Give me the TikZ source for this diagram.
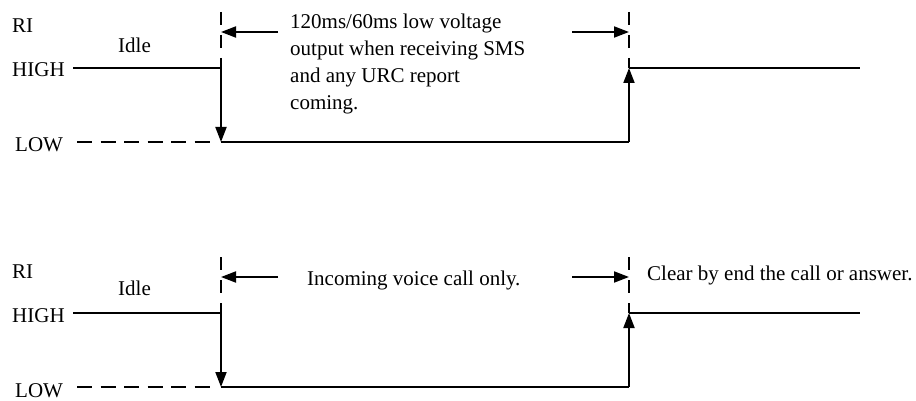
\documentclass[tikz,border=0pt]{standalone}
\usepackage{fontspec}
\setmainfont{Liberation Serif}
\usetikzlibrary{arrows.meta}
\begin{document}
\begin{tikzpicture}[x=1pt,y=-1pt,
  sig/.style={line width=1.9pt},
  dashv/.style={line width=1.9pt, dash pattern=on 13pt off 10pt},
  dashh/.style={line width=1.9pt, dash pattern=on 15pt off 8.5pt},
  tipend/.style={-{Triangle[length=15pt,width=11pt]}},
  lbl/.style={inner sep=0pt, anchor=base west, font=\fontsize{21}{27}\selectfont}]
\useasboundingbox (0,0) rectangle (916,401);
% ---------- top diagram ----------
\node[lbl] (ri1) at (12,33) {RI};
\node[lbl] (idle1) at (118,53) {Idle};
\node[lbl] (high1) at (12,77) {HIGH};
\node[lbl] (low1) at (15,152) {LOW};
\node[lbl, align=left] (txt1) at (290,110) {120ms/60ms low voltage\\output when receiving SMS\\and any URC report\\coming.};
\coordinate (hs1) at (73,68);
\coordinate (fa1) at (221,68);
\coordinate (fb1) at (221,142);
\coordinate (ra1) at (629,142);
\coordinate (rb1) at (629,68);
\coordinate (he1) at (860,68);
\coordinate (ls1) at (77,142);
\coordinate (le1) at (213,142);
\coordinate (dt1) at (221,12);
\coordinate (dr1) at (629,12);
\coordinate (al1) at (278,32);
\coordinate (alt1) at (221,32);
\coordinate (ar1) at (572,32);
\coordinate (art1) at (629,32);
\draw[sig] (hs1) -- (fa1);
\draw[sig,tipend] (fa1) -- (fb1);
\draw[sig] (fb1) -- (ra1);
\draw[sig,tipend] (ra1) -- (rb1);
\draw[sig] (rb1) -- (he1);
\draw[dashh] (ls1) -- (le1);
\draw[dashv] (dt1) -- (fa1);
\draw[dashv] (dr1) -- (rb1);
\draw[sig,tipend] (al1) -- (alt1);
\draw[sig,tipend] (ar1) -- (art1);
% ---------- bottom diagram ----------
\node[lbl] (ri2) at (12,278) {RI};
\node[lbl] (idle2) at (118,295) {Idle};
\node[lbl] (high2) at (12,322) {HIGH};
\node[lbl] (low2) at (15,397) {LOW};
\node[lbl] (txt2) at (307,285) {Incoming voice call only.};
\node[lbl] (txt3) at (647,280) {Clear by end the call or answer.};
\coordinate (hs2) at (73,313);
\coordinate (fa2) at (221,313);
\coordinate (fb2) at (221,387);
\coordinate (ra2) at (629,387);
\coordinate (rb2) at (629,313);
\coordinate (he2) at (860,313);
\coordinate (ls2) at (77,387);
\coordinate (le2) at (213,387);
\coordinate (dt2) at (221,257);
\coordinate (dr2) at (629,257);
\coordinate (al2) at (278,277);
\coordinate (alt2) at (221,277);
\coordinate (ar2) at (572,277);
\coordinate (art2) at (629,277);
\draw[sig] (hs2) -- (fa2);
\draw[sig,tipend] (fa2) -- (fb2);
\draw[sig] (fb2) -- (ra2);
\draw[sig,tipend] (ra2) -- (rb2);
\draw[sig] (rb2) -- (he2);
\draw[dashh] (ls2) -- (le2);
\draw[dashv] (dt2) -- (fa2);
\draw[dashv] (dr2) -- (rb2);
\draw[sig,tipend] (al2) -- (alt2);
\draw[sig,tipend] (ar2) -- (art2);
\end{tikzpicture}
\end{document}
